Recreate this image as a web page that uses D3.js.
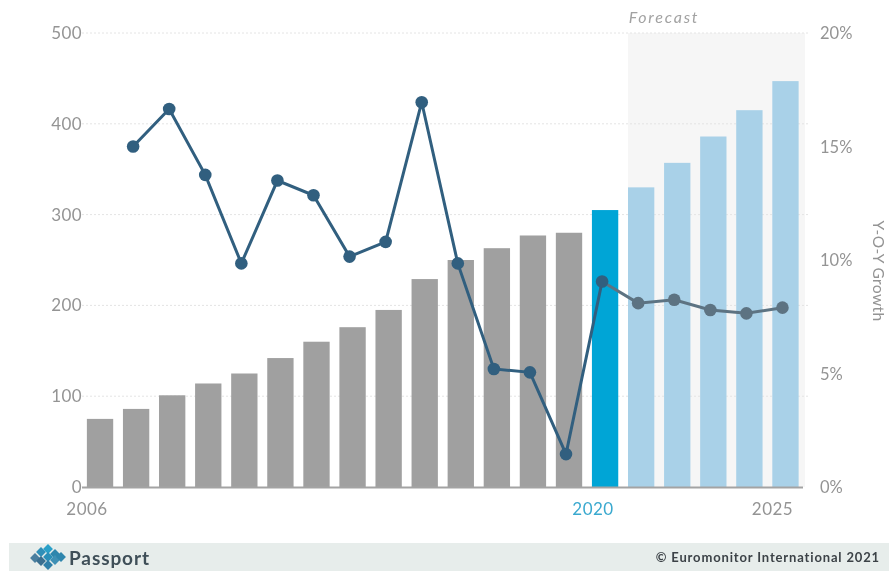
<!DOCTYPE html>
<html><head><meta charset="utf-8">
<script src="https://cdn.jsdelivr.net/npm/d3@7/dist/d3.min.js"></script>
<style>html,body{margin:0;padding:0;background:#fff}svg{display:block;font-family:Lato,"Open Sans",sans-serif;filter:blur(0.55px)}</style>
</head><body><svg id="c" width="889" height="571"></svg>
<script>
const years=d3.range(2006,2026);
const marketValues=[75,86,101,114,125,142,160,176,195,229,250,263,277,280,305,330,357,386,415,447];
const growthYears=d3.range(2007,2026);
const growthValues=[15,16.65,13.75,9.85,13.5,12.85,10.15,10.8,16.95,9.85,5.2,5.05,1.45,9.05,8.1,8.25,7.8,7.65,7.9];
const leftTicks=[0,100,200,300,400,500];
const rightTicks=[0,5,10,15,20];
const xLabels=[2006,2020,2025];
const currentYear=2020, firstForecast=2021;

const svg=d3.select("#c");
const x=d3.scaleBand().domain(years).range([82,803.5]).paddingInner(0.27).paddingOuter(0.135);
const yL=d3.scaleLinear().domain([0,500]).range([487,33]);
const yR=d3.scaleLinear().domain([0,20]).range([487,33]);
const cx=d=>x(d)+x.bandwidth()/2;
const lineX=d=>cx(d)-3;

// forecast panel
svg.append("rect").attr("x",x(firstForecast)).attr("y",33).attr("width",805-x(firstForecast)).attr("height",454).attr("fill","#f6f6f6");
// gridlines
svg.append("g").selectAll("line").data(leftTicks.filter(d=>d>0)).join("line")
 .attr("x1",82).attr("x2",808).attr("y1",d=>yL(d)).attr("y2",d=>yL(d))
 .attr("stroke","#e4e4e4").attr("stroke-width",1).attr("stroke-dasharray","2 2");
// bars
svg.append("g").selectAll("rect").data(years).join("rect")
 .attr("x",d=>x(d)).attr("width",x.bandwidth())
 .attr("y",(d,i)=>yL(marketValues[i])).attr("height",(d,i)=>yL(0)-yL(marketValues[i]))
 .attr("fill",d=>d<currentYear?"#a0a0a0":d===currentYear?"#00a5d6":"#a9d1e8");
// baseline
svg.append("line").attr("x1",82).attr("x2",803).attr("y1",487.5).attr("y2",487.5).attr("stroke","#a3a3a3").attr("stroke-width",2);
// line
const pts=growthYears.map((d,i)=>[lineX(d),yR(growthValues[i])]);
const n=growthYears.indexOf(currentYear);
const lg=d3.line();
svg.append("path").attr("d",lg(pts.slice(0,n+1))).attr("fill","none").attr("stroke","#315f7f").attr("stroke-width",3);
svg.append("path").attr("d",lg(pts.slice(n))).attr("fill","none").attr("stroke","#5d7382").attr("stroke-width",3);
svg.append("g").selectAll("circle").data(pts).join("circle")
 .attr("cx",d=>d[0]).attr("cy",d=>d[1]).attr("r",6.3)
 .attr("fill",(d,i)=>i>n?"#5d7382":"#315f7f");
// axis labels
const tc="#949494";
svg.append("g").selectAll("text").data(leftTicks).join("text")
 .attr("x",82).attr("y",d=>yL(d)+6).attr("text-anchor","end").attr("font-size",17).attr("letter-spacing",0.4).attr("fill",tc).text(d=>d);
svg.append("g").selectAll("text").data(rightTicks).join("text")
 .attr("x",820).attr("y",d=>yR(d)+6).attr("font-size",16.5).attr("fill",tc).text(d=>d+"%");
svg.append("g").selectAll("text").data(xLabels).join("text")
 .attr("x",d=>d===2006?87:d===2020?593:772.5).attr("y",515).attr("text-anchor","middle")
 .attr("font-size",17).attr("letter-spacing",0.5).attr("fill",d=>d===currentYear?"#3aa9cf":tc).text(d=>d);
svg.append("text").attr("transform","translate(873,271) rotate(90)").attr("text-anchor","middle")
 .attr("font-size",15.5).attr("letter-spacing",0.4).attr("fill",tc).text("Y-O-Y Growth");
svg.append("text").attr("x",664).attr("y",23).attr("text-anchor","middle").attr("font-size",16).attr("font-style","italic").attr("letter-spacing",1.8).attr("fill","#a2a2a2").text("Forecast");
// footer
svg.append("rect").attr("x",9).attr("y",543).attr("width",880).attr("height",28).attr("fill","#e7edeb");
const logo=svg.append("g").attr("transform","translate(47,557)");
[[-12,1,"#4a7f9f"],[-6,-5,"#2f8fb8"],[-6,4,"#3a6f90"],[1,-8,"#2aa0c8"],[1,0,"#2a8fb8"],[1,8,"#2f7fa8"],[8,-3,"#2f86ad"],[8,3,"#3f90b5"],[14,0,"#2f86ad"]].forEach(p=>{
 logo.append("rect").attr("x",p[0]-3.5).attr("y",p[1]-3.5).attr("width",7).attr("height",7).attr("transform",`rotate(45 ${p[0]} ${p[1]})`).attr("fill",p[2]);
});
svg.append("text").attr("x",69).attr("y",565).attr("font-size",19).attr("font-weight",700).attr("letter-spacing",0.9).attr("fill","#3f4f58").text("Passport");
svg.append("text").attr("x",880).attr("y",562).attr("text-anchor","end").attr("font-size",13).attr("font-weight",700).attr("fill","#3c4247").attr("letter-spacing","0.85").text("© Euromonitor International 2021");
</script></body></html>
